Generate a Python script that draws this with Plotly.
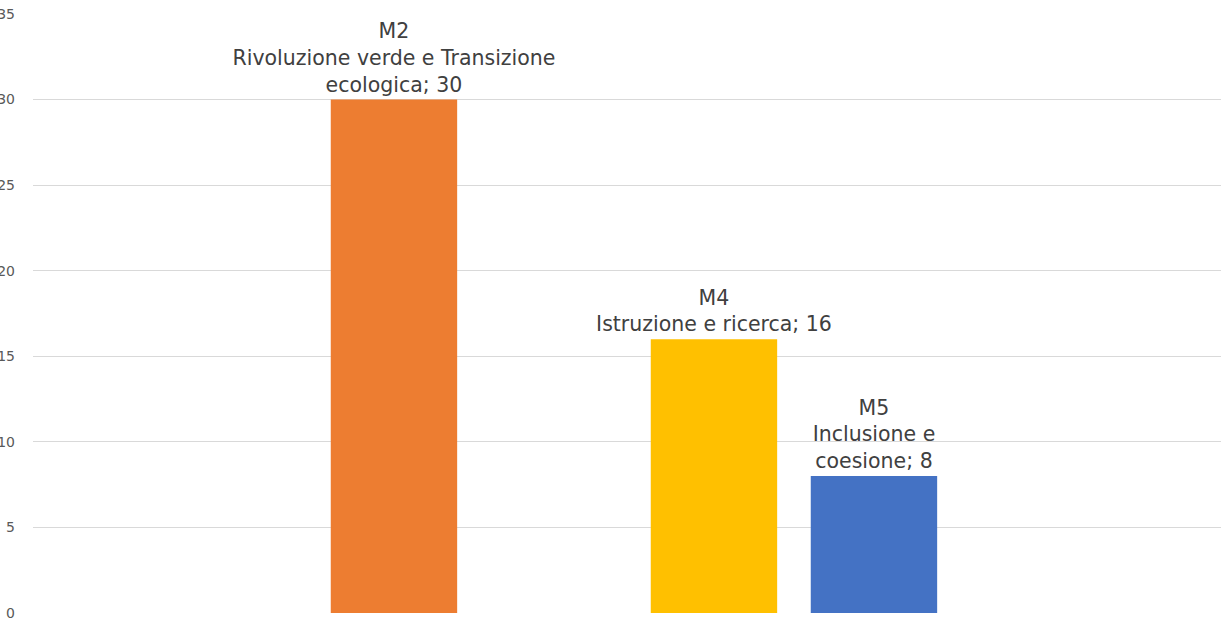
import plotly.graph_objects as go

# all mission slots on the x axis (only some have a bar)
mission_slots = ["M1", "M2", "M3", "M4", "M5", "M6"]

missions = ["M2", "M4", "M5"]
mission_names = [
    "Rivoluzione verde e Transizione<br>ecologica",
    "Istruzione e ricerca",
    "Inclusione e<br>coesione",
]
values = [30, 16, 8]
colors = ["#ED7D31", "#FFC000", "#4472C4"]

y_ticks = [0, 5, 10, 15, 20, 25, 30, 35]

labels = [f"{m}<br>{n}; {v}" for m, n, v in zip(missions, mission_names, values)]

fig = go.Figure()
fig.add_trace(
    go.Bar(
        x=missions,
        y=values,
        width=0.79,
        marker={"color": colors, "line": {"width": 0}},
        text=labels,
        textposition="outside",
        constraintext="none",
        textfont={"family": "DejaVu Sans, sans-serif", "size": 20.5, "color": "#404040"},
        cliponaxis=False,
        hoverinfo="skip",
    )
)

fig.update_layout(
    width=1221,
    height=625,
    paper_bgcolor="white",
    plot_bgcolor="white",
    showlegend=False,
    margin={"l": 33, "r": 0, "t": 14, "b": 12, "autoexpand": False},
    xaxis={
        "type": "category",
        "categoryorder": "array",
        "categoryarray": mission_slots,
        "range": [-1.256, 6.169],
        "showticklabels": False,
        "showgrid": False,
        "zeroline": False,
        "showline": False,
        "ticks": "",
    },
    yaxis={
        "range": [0, 35],
        "tickvals": y_ticks,
        "showgrid": True,
        "gridcolor": "#D9D9D9",
        "gridwidth": 1,
        "zeroline": False,
        "showline": False,
        "ticks": "",
        "automargin": False,
        "ticklabelstandoff": 17,
        "tickfont": {"family": "DejaVu Sans, sans-serif", "size": 14, "color": "#595959"},
    },
)

fig.write_html(
    "out.html",
    config={"displayModeBar": False},
    post_script="document.body.style.margin='0';",
)
